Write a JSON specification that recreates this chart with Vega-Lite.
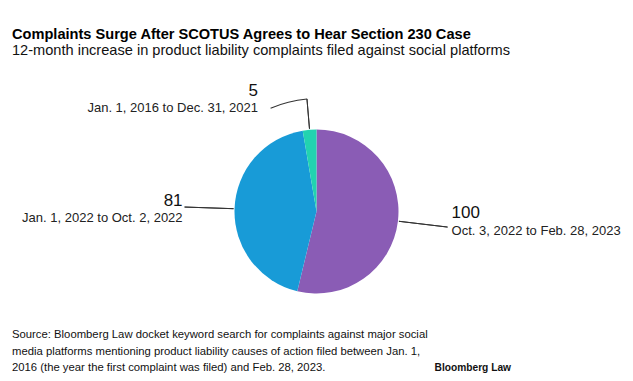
{
  "$schema": "https://vega.github.io/schema/vega-lite/v6.json",
  "background": "white",
  "padding": {"left": 12, "top": 26.5, "right": 0, "bottom": 0},
  "config": {"view": {"stroke": null}, "concat": {"spacing": 0}},
  "title": {
    "text": "Complaints Surge After SCOTUS Agrees to Hear Section 230 Case",
    "subtitle": "12-month increase in product liability complaints filed against social platforms",
    "anchor": "start",
    "frame": "group",
    "font": "Liberation Sans",
    "fontSize": 14.6,
    "fontWeight": "bold",
    "color": "#000000",
    "subtitleFont": "Liberation Sans",
    "subtitleFontSize": 14.6,
    "subtitleColor": "#111111",
    "subtitlePadding": 1.5,
    "offset": 24
  },
  "datasets": {
    "complaints": [
      {"period": "Oct. 3, 2022 to Feb. 28, 2023", "start": "2022-10-03", "complaints": 100},
      {"period": "Jan. 1, 2022 to Oct. 2, 2022", "start": "2022-01-01", "complaints": 81},
      {"period": "Jan. 1, 2016 to Dec. 31, 2021", "start": "2016-01-01", "complaints": 5}
    ]
  },
  "vconcat": [
    {
      "title": {
        "text": [
          "Source: Bloomberg Law docket keyword search for complaints against major social",
          "media platforms mentioning product liability causes of action filed between Jan. 1,",
          "2016 (the year the first complaint was filed) and Feb. 28, 2023."
        ],
        "orient": "bottom",
        "anchor": "start",
        "frame": "group",
        "font": "Liberation Sans",
        "fontSize": 11.3,
        "fontWeight": "normal",
        "color": "#111111",
        "lineHeight": 16.5,
        "offset": -43.5
      },
      "vconcat": [
        {
          "width": 609,
          "height": 222,
          "title": {
            "text": "Bloomberg Law",
            "orient": "bottom",
            "anchor": "end",
            "frame": "group",
            "font": "Liberation Sans",
            "fontSize": 10.2,
            "fontWeight": "bold",
            "color": "#111111",
            "dx": -110,
            "offset": 40
          },
          "data": {"name": "complaints"},
          "transform": [
            {"stack": "complaints", "groupby": [], "sort": [{"field": "start", "order": "descending"}], "as": ["t0", "t1"]},
            {"fold": ["t0", "t1"], "as": ["edge", "bound"]},
            {"aggregate": [{"op": "mean", "field": "bound", "as": "mid"}], "groupby": ["period", "start", "complaints"]}
          ],
          "layer": [
            {
              "mark": {"type": "arc", "outerRadius": 82},
              "encoding": {
                "theta": {"field": "complaints", "type": "quantitative", "stack": true},
                "order": {"field": "start", "type": "ordinal", "sort": "descending"},
                "color": {
                  "field": "period",
                  "type": "nominal",
                  "scale": {
                    "domain": ["Oct. 3, 2022 to Feb. 28, 2023", "Jan. 1, 2022 to Oct. 2, 2022", "Jan. 1, 2016 to Dec. 31, 2021"],
                    "range": ["#8a5cb5", "#189bd7", "#22d3b0"]
                  },
                  "legend": null
                }
              }
            },
            {
              "transform": [{"filter": {"field": "period", "oneOf": ["Oct. 3, 2022 to Feb. 28, 2023", "Jan. 1, 2022 to Oct. 2, 2022"]}}],
              "mark": {"type": "arc", "innerRadius": 83, "outerRadius": 132, "filled": false, "color": "#333333", "strokeWidth": 1},
              "encoding": {
                "theta": {"field": "mid", "type": "quantitative", "stack": null},
                "theta2": {"field": "mid"}
              }
            },
            {
              "transform": [{"filter": {"field": "period", "equal": "Jan. 1, 2016 to Dec. 31, 2021"}}],
              "layer": [
                {
                  "mark": {"type": "arc", "innerRadius": 83, "outerRadius": 113, "filled": false, "color": "#333333", "strokeWidth": 1},
                  "encoding": {
                    "theta": {"field": "mid", "type": "quantitative", "stack": null},
                    "theta2": {"field": "mid"}
                  }
                },
                {
                  "mark": {"type": "arc", "innerRadius": 112.5, "outerRadius": 113.5, "theta2Offset": -0.334, "color": "#333333"},
                  "encoding": {
                    "theta": {"field": "mid", "type": "quantitative", "stack": null},
                    "theta2": {"field": "mid"}
                  }
                }
              ]
            },
            {
              "transform": [{"filter": {"field": "period", "equal": "Oct. 3, 2022 to Feb. 28, 2023"}}],
              "layer": [
                {
                  "mark": {"type": "text", "radius": 135, "align": "left", "baseline": "alphabetic", "dx": 1, "dy": -9, "font": "Liberation Sans", "fontSize": 17, "color": "#111111"},
                  "encoding": {"theta": {"field": "mid", "type": "quantitative", "stack": null}, "text": {"field": "complaints", "type": "quantitative"}}
                },
                {
                  "mark": {"type": "text", "radius": 135, "align": "left", "baseline": "alphabetic", "dx": 1, "dy": 8, "font": "Liberation Sans", "fontSize": 13, "color": "#222222"},
                  "encoding": {"theta": {"field": "mid", "type": "quantitative", "stack": null}, "text": {"field": "period", "type": "nominal"}}
                }
              ]
            },
            {
              "transform": [{"filter": {"field": "period", "equal": "Jan. 1, 2022 to Oct. 2, 2022"}}],
              "layer": [
                {
                  "mark": {"type": "text", "radius": 134, "align": "right", "baseline": "alphabetic", "dx": 0, "dy": -0.5, "font": "Liberation Sans", "fontSize": 17, "color": "#111111"},
                  "encoding": {"theta": {"field": "mid", "type": "quantitative", "stack": null}, "text": {"field": "complaints", "type": "quantitative"}}
                },
                {
                  "mark": {"type": "text", "radius": 134, "align": "right", "baseline": "alphabetic", "dx": 0, "dy": 15, "font": "Liberation Sans", "fontSize": 13, "color": "#222222"},
                  "encoding": {"theta": {"field": "mid", "type": "quantitative", "stack": null}, "text": {"field": "period", "type": "nominal"}}
                }
              ]
            },
            {
              "transform": [{"filter": {"field": "period", "equal": "Jan. 1, 2016 to Dec. 31, 2021"}}],
              "layer": [
                {
                  "mark": {"type": "text", "radius": 116, "align": "right", "baseline": "alphabetic", "dx": -48.7, "dy": 0, "font": "Liberation Sans", "fontSize": 17, "color": "#111111"},
                  "encoding": {"theta": {"field": "mid", "type": "quantitative", "stack": null}, "text": {"field": "complaints", "type": "quantitative"}}
                },
                {
                  "mark": {"type": "text", "radius": 116, "align": "right", "baseline": "alphabetic", "dx": -48.7, "dy": 16, "font": "Liberation Sans", "fontSize": 13, "color": "#222222"},
                  "encoding": {"theta": {"field": "mid", "type": "quantitative", "stack": null}, "text": {"field": "period", "type": "nominal"}}
                }
              ]
            }
          ]
        }
      ]
    }
  ]
}
